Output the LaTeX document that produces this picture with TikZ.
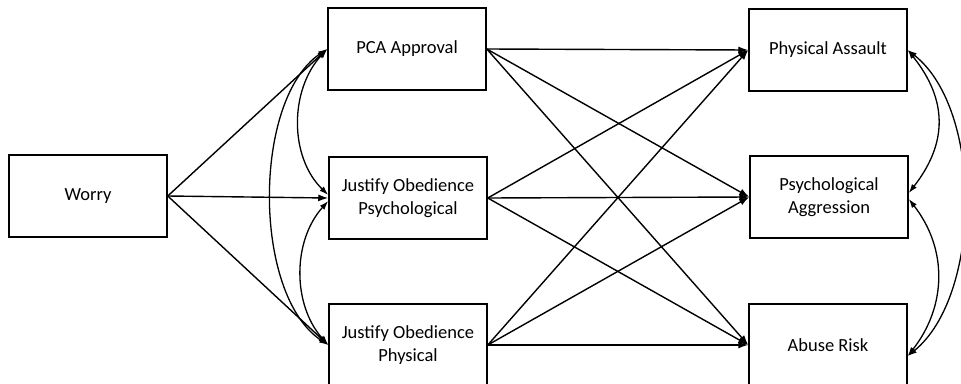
\documentclass[tikz,border=0pt]{standalone}
\usepackage{fontspec}
\setmainfont{Carlito}
\usetikzlibrary{arrows.meta}
\begin{document}
\begin{tikzpicture}[x=1pt,y=-1pt,
  box/.style={draw,line width=1.5pt,minimum width=158pt,minimum height=82pt,align=center,font=\fontsize{18.5}{23}\selectfont,inner sep=0pt},
  path/.style={line width=1.4pt,-{Latex[length=10pt,width=7pt]}},
  cov/.style={line width=1.3pt,{Latex[length=9pt,width=6pt]}-{Latex[length=9pt,width=6pt]}}]
\useasboundingbox (0,0) rectangle (961,383);
\node[box] (w) at (88,196) {Worry};
\node[box] (pca) at (407,49) {PCA Approval};
\node[box] (jps) at (408,198) {Justify Obedience\\Psychological};
\node[box] (jph) at (408,345) {Justify Obedience\\Physical};
\node[box] (pa) at (828,50) {Physical Assault};
\node[box] (pag) at (829,197) {Psychological\\Aggression};
\node[box] (ar) at (828,345) {Abuse Risk};
% worry paths
\draw[path] (w.east) -- (pca.west);
\draw[path] (w.east) -- (jps.west);
\draw[path] (w.east) -- (jph.west);
% mediator paths
\foreach \s in {pca,jps,jph}{
  \foreach \t in {pa,pag,ar}{
    \draw[path] (\s.east) -- (\t.west);
  }
}
% covariances left
\draw[cov] (pca.west) .. controls +(-38,41) and +(-39,-38) .. ([yshift=3pt]jps.west);
\draw[cov] ([yshift=-3pt]jps.west) .. controls +(-36,40) and +(-36,-40) .. (jph.west);
\draw[cov] (pca.west) .. controls +(-75,50) and +(-76,-50) .. (jph.west);
% covariances right
\draw[cov] (pa.east) .. controls +(40,50) and +(39,-50) .. ([yshift=4pt]pag.east);
\draw[cov] ([yshift=-2pt]pag.east) .. controls +(39,50) and +(39,-50) .. ([yshift=-11pt]ar.east);
\draw[cov] (pa.east) .. controls +(76,60) and +(74,-60) .. ([yshift=-11pt]ar.east);
\end{tikzpicture}
\end{document}
